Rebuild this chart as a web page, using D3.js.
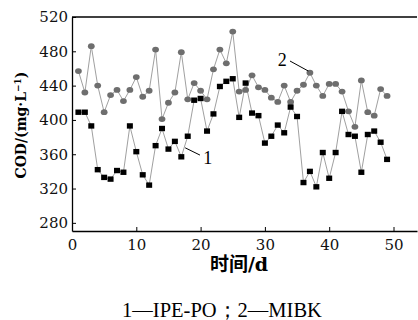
<!DOCTYPE html>
<html>
<head>
<meta charset="utf-8">
<script src="https://cdn.jsdelivr.net/npm/d3@7"></script>
<style>
  body { margin: 0; background: #fff; }
  svg { display: block; }
  .tick text { font-family: "DejaVu Serif", serif; font-size: 15px; fill: #111; }
</style>
</head>
<body>
<svg id="chart" width="418" height="320"></svg>
<script>
// days 1..49
var days = d3.range(1, 50);
// series 1: IPE-PO (black squares)
var ipePo = [409, 409, 393, 342, 333, 331, 341, 339, 393, 363,
             336, 324, 370, 390, 366, 375, 357, 381, 423, 425,
             387, 407, 439, 445, 448, 403, 443, 408, 405, 373,
             381, 394, 385, 415, 404, 327, 340, 322, 362, 332,
             362, 410, 383, 381, 339, 383, 387, 374, 354];
// series 2: MIBK (gray circles)
var mibk = [457, 432, 486, 440, 409, 429, 435, 422, 435, 450,
            427, 434, 482, 401, 420, 432, 479, 424, 443, 434,
            424, 459, 482, 466, 503, 433, 435, 452, 438, 435,
            426, 421, 440, 421, 434, 441, 455, 440, 428, 442,
            442, 433, 410, 392, 446, 409, 405, 436, 428];
var xTicks = [0, 10, 20, 30, 40, 50];
var yTicks = [280, 320, 360, 400, 440, 480, 520];

var svg = d3.select("#chart");
var margin = {top: 17, right: 1, bottom: 89, left: 72};
var width = 418 - margin.left - margin.right;
var height = 320 - margin.top - margin.bottom;

// 10 days = 64.3 px
var x = d3.scaleLinear().domain([0, width / 6.43]).range([0, width]);
var y = d3.scaleLinear().domain([270.5, 520]).range([height, 0]);

var g = svg.append("g").attr("transform", "translate(" + margin.left + "," + margin.top + ")");

// top border line
g.append("line")
  .attr("x1", 0).attr("x2", width)
  .attr("y1", 0).attr("y2", 0)
  .attr("stroke", "#000").attr("stroke-width", 1.3);

var xAxis = g.append("g")
  .attr("transform", "translate(0," + height + ")")
  .call(d3.axisBottom(x).tickValues(xTicks).tickSizeInner(-4).tickSizeOuter(0).tickPadding(8));
xAxis.select(".domain").attr("stroke-width", 1.3);

var yAxis = g.append("g")
  .call(d3.axisLeft(y).tickValues(yTicks).tickSizeInner(-4).tickSizeOuter(0).tickPadding(4));
yAxis.select(".domain").attr("stroke-width", 1.3);

var line = d3.line()
  .x(function(d, i){ return x(days[i]); })
  .y(function(d){ return y(d); });

g.append("path").datum(mibk)
  .attr("fill", "none").attr("stroke", "#a0a0a0").attr("stroke-width", 1)
  .attr("d", line);
g.append("path").datum(ipePo)
  .attr("fill", "none").attr("stroke", "#a0a0a0").attr("stroke-width", 1)
  .attr("d", line);

g.selectAll(".pt2").data(mibk).enter().append("ellipse")
  .attr("class", "pt2")
  .attr("cx", function(d, i){ return x(days[i]); })
  .attr("cy", function(d){ return y(d); })
  .attr("rx", 3.4).attr("ry", 2.9)
  .attr("fill", "#6e6e6e");

g.selectAll(".pt1").data(ipePo).enter().append("rect")
  .attr("class", "pt1")
  .attr("x", function(d, i){ return x(days[i]) - 3; })
  .attr("y", function(d){ return y(d) - 2.7; })
  .attr("width", 6).attr("height", 5.4)
  .attr("fill", "#000");

// series labels with leader lines
g.append("line")
  .attr("x1", x(17.6)).attr("y1", y(367.5))
  .attr("x2", x(19.9)).attr("y2", y(359))
  .attr("stroke", "#000").attr("stroke-width", 1);
g.append("text")
  .attr("x", x(20.4)).attr("y", y(348.6))
  .attr("font-family", "Liberation Serif, serif").attr("font-size", 18)
  .text("1");

g.append("line")
  .attr("x1", x(33.9)).attr("y1", y(468.7))
  .attr("x2", x(36.75)).attr("y2", y(457))
  .attr("stroke", "#000").attr("stroke-width", 1);
g.append("text")
  .attr("x", x(32.0)).attr("y", y(463))
  .attr("font-family", "Liberation Serif, serif").attr("font-size", 18)
  .text("2");

// axis titles
svg.append("text")
  .attr("transform", "translate(26,125) rotate(-90)")
  .attr("text-anchor", "middle")
  .attr("font-family", "DejaVu Serif, serif").attr("font-size", 14).attr("font-weight", "bold")
  .html('COD/(mg\u00b7L<tspan dy="-5" font-size="9">\u22121</tspan><tspan dy="5">)</tspan>');

svg.append("text")
  .attr("x", 239).attr("y", 271)
  .attr("text-anchor", "middle")
  .attr("font-family", "Noto Sans CJK SC, sans-serif").attr("font-size", 19).attr("font-weight", "bold")
  .html('时间<tspan font-family="DejaVu Serif, serif">/d</tspan>');

svg.append("text")
  .attr("x", 222).attr("y", 317)
  .attr("text-anchor", "middle")
  .attr("font-family", "Liberation Serif, serif").attr("font-size", 20.5)
  .text("1\u2014IPE-PO\uff1b2\u2014MIBK");
</script>
</body>
</html>
